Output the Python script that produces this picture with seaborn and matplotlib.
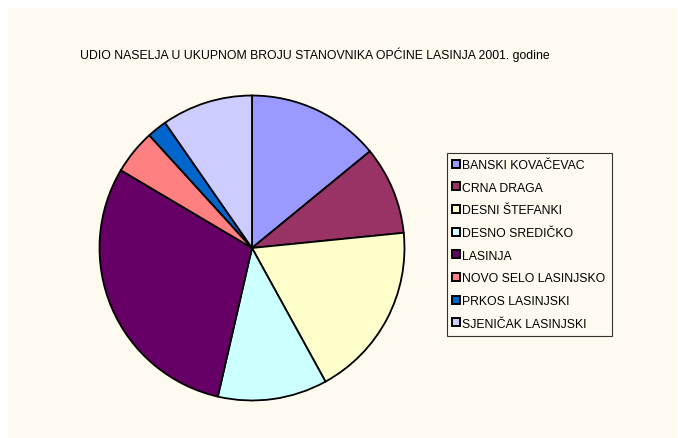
import matplotlib
matplotlib.use("Agg")
import matplotlib.pyplot as plt
import seaborn as sns
from matplotlib.lines import Line2D
from matplotlib.patches import Rectangle

# population by settlement, Lasinja municipality, 2001
settlements = [
    "BANSKI KOVAČEVAC",
    "CRNA DRAGA",
    "DESNI ŠTEFANKI",
    "DESNO SREDIČKO",
    "LASINJA",
    "NOVO SELO LASINJSKO",
    "PRKOS LASINJSKI",
    "SJENIČAK LASINJSKI",
]
population = [268, 178, 354, 221, 570, 90, 40, 184]
colors = ["#9999FF", "#993366", "#FFFFCC", "#CCFFFF",
          "#660066", "#FF8080", "#0066CC", "#CCCCFF"]
title = "UDIO NASELJA U UKUPNOM BROJU STANOVNIKA OPĆINE LASINJA 2001. godine"

sns.set_style("white")
plt.rcParams["font.family"] = ["Liberation Sans", "DejaVu Sans"]
plt.rcParams["text.color"] = "black"

W, H = 678, 439
fig = plt.figure(figsize=(W / 100, H / 100), dpi=100, facecolor="white")

# cream chart area
fig.patches.append(Rectangle((8 / W, 0), (W - 9) / W, (H - 9) / H,
                             transform=fig.transFigure, facecolor="#FFFAEF",
                             edgecolor="none", zorder=-10))

# pie: centre (252, 249), radius 154 px
cx, cy, r = 252, 249, 154
ax = fig.add_axes([(cx - r) / W, (H - cy - r) / H, 2 * r / W, 2 * r / H])
ax.pie(population, colors=colors, startangle=90, counterclock=False,
       wedgeprops=dict(edgecolor="black", linewidth=1.3))
ax.set_xlim(-1.01, 1.01)
ax.set_ylim(-1.01, 1.01)
ax.set_aspect("equal")
ax.axis("off")

fig.text(315 / W, 1 - 55 / H, title, ha="center", va="center", fontsize=8.8)

handles = [Line2D([], [], marker="s", linestyle="none", markersize=5.5,
                  markerfacecolor=c, markeredgecolor="black", markeredgewidth=1.4)
           for c in colors]
leg = fig.legend(handles, settlements, loc="upper left",
                 bbox_to_anchor=(447 / W, 1 - 154 / H), fontsize=8.8,
                 frameon=True, fancybox=False, borderaxespad=0,
                 handlelength=0.55, handletextpad=0.2, labelspacing=0.87,
                 borderpad=0.5)
leg.get_frame().set_edgecolor("black")
leg.get_frame().set_linewidth(0.8)
leg.get_frame().set_facecolor("#FFFAEF")

fig.savefig("out.png", dpi=100, facecolor="white")
